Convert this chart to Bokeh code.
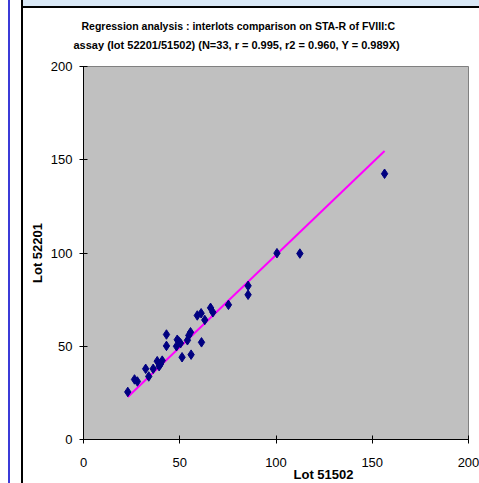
from bokeh.plotting import figure
from bokeh.models import Range1d, FixedTicker, ColumnDataSource, Title
from bokeh.embed import file_html
from bokeh.resources import INLINE

# ---- data ----
lot51502 = [23.0, 26.5, 28.0, 32.3, 33.9, 36.2, 38.3, 39.3, 40.0, 40.9, 43.1,
            43.1, 48.3, 48.7, 49.5, 50.4, 51.2, 54.0, 54.7, 55.6, 55.9, 59.1,
            61.1, 61.3, 63.0, 66.0, 67.2, 75.3, 85.5, 85.5, 100.5, 112.4, 156.4]
lot52201 = [25.5, 32.2, 31.1, 37.9, 33.8, 37.9, 42.0, 39.3, 40.5, 42.3, 56.3,
            50.2, 50.0, 53.5, 52.5, 51.6, 44.1, 53.2, 55.8, 57.5, 45.5, 66.5,
            67.7, 52.1, 64.1, 70.6, 68.2, 72.2, 82.4, 77.6, 99.9, 99.7, 142.5]
slope = 0.989
x_ticks = [0, 50, 100, 150, 200]
y_ticks = [0, 50, 100, 150, 200]
title_lines = ["Regression analysis : interlots comparison on STA-R of FVIII:C",
               "assay  (lot 52201/51502) (N=33, r = 0.995, r2 = 0.960, Y = 0.989X)"]
x_label = "Lot 51502"
y_label = "Lot 52201"

line_x = [min(lot51502), max(lot51502)]
line_y = [slope * v for v in line_x]

FONT = "Liberation Sans"

bg = ("linear-gradient(#000,#000) 21px 0 / 2px 100% no-repeat, "
      "linear-gradient(#000,#000) 21px 6px / 100% 2px no-repeat, "
      "linear-gradient(#d9e8f6,#d9e8f6) 21px 0 / 100% 6px no-repeat, "
      "linear-gradient(#3b3bd8,#3b3bd8) 8px 0 / 2px 100% no-repeat, #ffffff")

p = figure(width=479, height=483, output_backend="svg", toolbar_location=None,
           x_range=Range1d(0, 200), y_range=Range1d(0, 200),
           min_border_left=83, min_border_right=11, min_border_top=66,
           min_border_bottom=44,
           background_fill_color="#c0c0c0", border_fill_color=None,
           outline_line_color="#808080",
           styles={"background": bg})
p.grid.visible = False
p.title.visible = False

for ax, ticks in ((p.xaxis, x_ticks), (p.yaxis, y_ticks)):
    ax.ticker = FixedTicker(ticks=ticks)
    ax.major_tick_in = 4
    ax.major_tick_out = 4
    ax.minor_tick_in = 0
    ax.minor_tick_out = 0
    ax.axis_line_color = "black"
    ax.major_tick_line_color = "black"
    ax.major_label_text_font = FONT
    ax.major_label_text_font_size = "13px"
    ax.major_label_text_color = "black"

p.xaxis.major_label_standoff = 14
p.yaxis.major_label_standoff = 7
p.yaxis.axis_label = y_label
p.yaxis.axis_label_text_font = FONT
p.yaxis.axis_label_text_font_size = "13px"
p.yaxis.axis_label_text_font_style = "bold"
p.yaxis.axis_label_text_color = "black"
p.yaxis.axis_label_standoff = 3

# x-axis title, placed off-centre as in the reference
p.add_layout(Title(text=x_label, align="left", offset=210, standoff=-6,
                   vertical_align="top", text_font=FONT, text_font_size="13px",
                   text_font_style="bold", text_color="black"), "below")

# two-line chart title (second line nearest the plot)
p.add_layout(Title(text=title_lines[1], align="left", offset=-10,
                   text_font=FONT, text_font_size="11px", text_font_style="bold",
                   text_color="black", standoff=31), "above")
p.add_layout(Title(text=title_lines[0], align="left", offset=-2,
                   text_font=FONT, text_font_size="10.5px", text_font_style="bold",
                   text_color="black", standoff=-20), "above")

src = ColumnDataSource(dict(x=lot51502, y=lot52201))
p.line(line_x, line_y, line_color="#ff00ff", line_width=2)
p.scatter("x", "y", source=src, marker="diamond", size=9.5,
          fill_color="#000080", line_color="#000080")

open("out.html", "w").write(file_html(p, INLINE))
